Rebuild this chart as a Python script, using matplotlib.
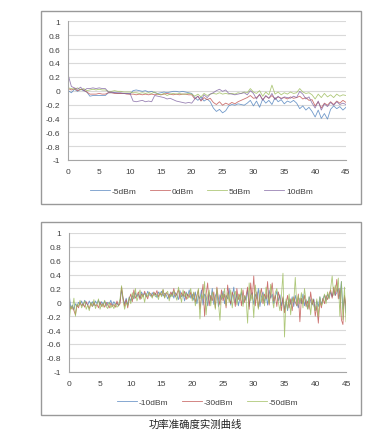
import numpy as np
import matplotlib
matplotlib.use('Agg')
import matplotlib.pyplot as plt
from matplotlib.patches import Rectangle

plt.rcParams['font.family'] = ['Liberation Sans', 'DejaVu Sans']

# ---- top chart: -5 / 0 / 5 / 10 dBm (x step 0.5) ----
top_labels = ['-5dBm', '0dBm', '5dBm', '10dBm']
top_m5 = [0.00, -0.03, 0.02, -0.01, 0.02, 0.00, -0.02,
          -0.08, -0.07, -0.07, -0.07, -0.07, -0.07,
          -0.03, -0.03, -0.03, -0.04, -0.04, -0.04, -0.04, -0.05,
          0.00, 0.01, 0.00, -0.01, 0.00, -0.02, -0.01, -0.03,
          -0.04, -0.03, -0.02, -0.03, -0.02, -0.01, -0.01, -0.02, -0.01, -0.02, -0.03, -0.04,
          -0.10, -0.14, -0.09, -0.15, -0.12, -0.16,
          -0.25, -0.30, -0.27, -0.32, -0.29,
          -0.22, -0.20, -0.21, -0.19, -0.20, -0.21, -0.18,
          -0.14, -0.22,
          -0.15, -0.24, -0.12, -0.18, -0.14, -0.20, -0.10, -0.16, -0.13, -0.19, -0.15, -0.17, -0.14, -0.18,
          -0.26, -0.22, -0.28, -0.24,
          -0.30, -0.38, -0.28, -0.40, -0.33, -0.41,
          -0.27, -0.22, -0.26, -0.23, -0.28, -0.24]
top_0 = [0.03, 0.01, 0.03, 0.00, 0.02, 0.01, -0.02,
         -0.05, -0.05, -0.05, -0.04, -0.05, -0.05,
         -0.03, -0.03, -0.04, -0.04, -0.04, -0.04, -0.05, -0.05,
         -0.05, -0.06, -0.05, -0.06, -0.05, -0.06, -0.05, -0.06,
         -0.05, -0.06, -0.05, -0.04, -0.05, -0.06, -0.05, -0.06, -0.05, -0.05, -0.06, -0.06,
         -0.12, -0.08, -0.15, -0.10, -0.13, -0.11,
         -0.17, -0.20, -0.16, -0.21, -0.18,
         -0.20, -0.17, -0.19, -0.16, -0.14, -0.12, -0.10,
         -0.07, -0.11,
         -0.10, -0.06, -0.13, -0.08, -0.11, -0.07, -0.12, -0.09, -0.11, -0.10, -0.12, -0.09, -0.11, -0.10,
         -0.08, -0.12, -0.10, -0.14,
         -0.13, -0.22, -0.16, -0.25, -0.18, -0.21,
         -0.16, -0.20, -0.15, -0.18, -0.14, -0.17]
top_5 = [0.04, 0.03, 0.02, 0.04, 0.01, 0.03, 0.00,
         0.01, 0.02, 0.01, 0.02, 0.01, 0.01,
         -0.01, -0.01, 0.00, -0.01, -0.01, -0.02, -0.02, -0.02,
         -0.03, -0.03, -0.04, -0.03, -0.04, -0.03, -0.04, -0.02,
         -0.05, -0.06, -0.04, -0.07, -0.05, -0.04, -0.05, -0.04, -0.05, -0.05, -0.04, -0.05,
         -0.08, -0.05, -0.09, -0.04, -0.07, -0.05,
         -0.04, -0.05, -0.03, -0.05, -0.04,
         -0.05, -0.04, -0.05, -0.03, -0.04, -0.02, -0.03,
         0.03, -0.02,
         -0.04, 0.00, -0.08, -0.02, -0.06, 0.08, -0.05, -0.02, -0.06, -0.03, -0.05, -0.02, -0.04, -0.03,
         0.03, -0.02, -0.04, -0.03,
         -0.06, -0.12, -0.05, -0.10, -0.04, -0.09,
         -0.06, -0.10, -0.05, -0.08, -0.06, -0.07]
top_10 = [0.22, 0.06, 0.04, 0.02, 0.05, 0.00, 0.03,
          0.03, 0.04, 0.03, 0.04, 0.03, 0.03,
          -0.02, -0.02, -0.03, -0.03, -0.03, -0.04, -0.04, -0.04,
          -0.15, -0.16, -0.15, -0.14, -0.16, -0.15, -0.16, -0.07,
          -0.08, -0.09, -0.10, -0.12, -0.11, -0.13, -0.15, -0.16, -0.17, -0.18, -0.17, -0.18,
          -0.12, -0.08, -0.14, -0.06, -0.10, -0.05,
          -0.03, 0.00, 0.02, -0.01, 0.01,
          -0.04, -0.05, -0.06, -0.05, -0.04, -0.03, -0.06,
          0.00, -0.04,
          -0.12, -0.05, -0.14, -0.07, -0.11, -0.04, -0.13, -0.08, -0.12, -0.09, -0.10, -0.11, -0.08, -0.10,
          -0.01, -0.05, -0.12, -0.09,
          -0.18, -0.25, -0.15, -0.28, -0.19, -0.23,
          -0.17, -0.21, -0.16, -0.20, -0.18, -0.20]

# ---- bottom chart: -10 / -30 / -50 dBm (x step 0.25) ----
bot_labels = ['-10dBm', '-30dBm', '-50dBm']
bot_m10 = [0.10, -0.08, -0.04, -0.10, -0.02, -0.06, 0.00, -0.03, 0.02, -0.05, 0.03, -0.01, -0.04, 0.02, -0.03, 0.01, -0.05, 0.02, -0.02, 0.03,
           -0.04, 0.01, -0.03, 0.02, -0.05, 0.00, -0.02, 0.03, -0.04, 0.01, -0.03, -0.01, -0.05, 0.02, 0.18, 0.05, -0.02, 0.06, -0.04, 0.08,
           0.02, 0.10, 0.05, 0.14, 0.08, 0.12, 0.06, 0.15, 0.10, 0.13, 0.08, 0.16, 0.11, 0.09, 0.14, 0.10, 0.13, 0.07, 0.15, 0.11,
           0.16, 0.09, 0.13, 0.11, 0.05, 0.12, 0.08, 0.15, 0.06, 0.14, 0.10, 0.04, 0.17, 0.08, 0.12, 0.02, 0.15, 0.09, 0.18, 0.06,
           0.12, 0.03, 0.15, -0.02, 0.10, 0.05, 0.18, -0.04, 0.12, 0.08, -0.05, 0.14, 0.02, 0.20, -0.03, 0.09, 0.15, -0.06, 0.11, 0.04,
           0.16, -0.02, 0.10, 0.05, 0.20, -0.04, 0.08, 0.22, 0.00, 0.12, -0.05, 0.06, 0.15, -0.02, 0.09, 0.03, 0.18, -0.06, 0.10, 0.14,
           -0.03, 0.12, 0.05, 0.20, -0.06, 0.08, 0.15, 0.00, 0.10, -0.04, 0.18, 0.06, 0.12, -0.02, 0.08, 0.16, 0.02, 0.11, -0.05, 0.06,
           -0.10, 0.02, -0.12, 0.05, -0.03, 0.08, -0.06, 0.10, 0.00, -0.08, 0.06, -0.02, 0.12, -0.05, 0.04, -0.09, 0.08, 0.02, -0.04, 0.05,
           -0.12, 0.02, -0.06, 0.08, -0.03, 0.05, 0.10, 0.02, 0.12, 0.06, 0.15, 0.08, 0.18, 0.10, 0.14, 0.20, 0.05, 0.30, -0.10, 0.08, -0.15]
bot_m30 = [-0.02, -0.10, -0.06, -0.12, -0.18, -0.04, -0.08, 0.00, -0.05, -0.02, -0.07, 0.01, -0.04, -0.09, -0.02, -0.06, 0.00, -0.05, -0.03, -0.08,
           0.01, -0.06, -0.02, -0.07, 0.00, -0.04, -0.08, -0.01, -0.06, -0.03, -0.07, 0.02, -0.05, -0.02, 0.22, 0.06, -0.06, 0.04, -0.08, 0.05,
           0.12, 0.01, 0.18, 0.06, 0.10, 0.15, 0.04, 0.12, 0.08, 0.16, 0.10, 0.05, 0.14, 0.12, 0.08, 0.15, 0.11, 0.17, 0.08, 0.13,
           0.10, 0.18, 0.07, 0.14, 0.12, 0.06, 0.15, 0.10, 0.20, 0.08, 0.13, 0.18, 0.05, 0.14, 0.09, 0.16, 0.04, 0.12, 0.07, 0.15,
           0.05, 0.14, 0.00, 0.10, 0.18, -0.10, 0.08, 0.26, -0.20, 0.12, 0.28, -0.05, 0.10, 0.02, 0.15, -0.08, 0.22, 0.06, -0.04, 0.18,
           0.02, 0.12, -0.08, 0.25, 0.05, -0.02, 0.15, 0.08, -0.06, 0.20, 0.04, 0.12, -0.05, 0.18, 0.00, 0.10, 0.22, -0.10, 0.28, 0.05,
           0.38, -0.05, 0.15, -0.08, 0.10, 0.20, -0.02, 0.12, 0.05, 0.30, -0.04, 0.14, 0.28, 0.02, 0.10, -0.06, 0.15, 0.05, -0.12, 0.08,
           -0.15, -0.02, 0.10, -0.08, 0.05, -0.12, 0.08, 0.00, -0.05, 0.12, -0.28, 0.06, -0.02, 0.10, -0.06, 0.02, -0.10, 0.15, -0.03, 0.04,
           -0.20, -0.05, -0.30, 0.02, -0.08, 0.06, -0.02, 0.10, 0.04, 0.12, 0.18, 0.06, 0.22, 0.10, 0.33, 0.05, 0.20, -0.25, -0.32, 0.10, -0.05]
bot_m50 = [-0.25, -0.05, -0.10, 0.06, -0.20, -0.02, -0.06, 0.03, -0.08, -0.03, 0.02, -0.10, -0.04, -0.12, 0.00, -0.06, 0.04, -0.09, -0.03, 0.05,
           -0.10, -0.02, -0.07, 0.03, -0.06, -0.09, 0.00, -0.08, -0.04, -0.09, -0.02, -0.07, -0.05, 0.05, 0.24, 0.02, -0.10, 0.00, -0.05, 0.07,
           -0.02, 0.14, 0.05, 0.20, 0.02, 0.09, 0.18, 0.05, 0.12, 0.00, 0.13, 0.08, 0.15, 0.10, 0.06, 0.14, 0.08, 0.12, 0.04, 0.15,
           0.08, 0.19, 0.06, 0.13, 0.16, 0.02, 0.12, 0.08, 0.17, 0.10, 0.03, 0.22, 0.12, 0.00, 0.18, 0.08, 0.14, 0.05, 0.10, 0.20,
           0.02, 0.15, -0.05, 0.08, 0.20, -0.24, 0.12, 0.05, 0.30, -0.18, 0.10, 0.18, -0.05, 0.15, 0.08, -0.10, 0.20, 0.00, -0.26, 0.12,
           0.06, 0.20, -0.05, 0.14, 0.00, 0.18, -0.08, 0.10, 0.16, -0.04, 0.12, 0.02, 0.20, -0.06, 0.10, 0.05, -0.30, 0.28, 0.02, 0.12,
           -0.22, 0.25, 0.05, -0.10, 0.18, 0.00, 0.12, -0.05, 0.22, 0.08, -0.02, 0.26, 0.05, -0.08, 0.14, 0.20, 0.00, -0.12, 0.10, 0.42,
           -0.50, 0.05, -0.10, 0.12, -0.18, 0.06, 0.00, 0.36, -0.05, 0.10, -0.02, 0.14, -0.08, 0.20, 0.02, -0.10, 0.08, -0.18, 0.05, -0.05,
           -0.12, 0.05, -0.20, 0.08, -0.05, 0.02, 0.12, -0.02, 0.15, 0.05, 0.20, 0.38, 0.10, 0.25, 0.15, 0.35, -0.20, 0.30, -0.25, 0.22, -0.28]

caption = '功率准确度实测曲线'
xticks = list(range(0, 46, 5))
yticks = [1, 0.8, 0.6, 0.4, 0.2, 0, -0.2, -0.4, -0.6, -0.8, -1]
colors = ['#4F81BD', '#C0504D', '#9BBB59', '#8064A2']

W, H = 383, 439
fig = plt.figure(figsize=(W / 100, H / 100), dpi=100)

# chart frames
for (x0, y0, x1, y1) in [(40.5, 12, 360.5, 205), (41, 223, 360.5, 415.7)]:
    fig.patches.append(Rectangle((x0 / W, 1 - y1 / H), (x1 - x0) / W, (y1 - y0) / H,
                                 transform=fig.transFigure, fill=False,
                                 edgecolor='#999999', linewidth=1.0))


def style(ax):
    ax.set_xlim(0, 45)
    ax.set_ylim(-1, 1)
    ax.set_xticks(xticks)
    ax.set_yticks(yticks)
    ax.set_yticklabels([('%g' % v) for v in yticks])
    ax.grid(axis='y', color='#d9d9d9', linewidth=0.8)
    ax.set_axisbelow(True)
    for s in ['top', 'right']:
        ax.spines[s].set_visible(False)
    for s in ['left', 'bottom']:
        ax.spines[s].set_color('#a6a6a6')
        ax.spines[s].set_linewidth(0.8)
    ax.tick_params(length=0, labelsize=6, colors='#404040', pad=6)


ax1 = fig.add_axes([68.3 / W, 1 - 161 / H, (346 - 68.3) / W, (161 - 22.3) / H])
for vals, lab, c in zip([top_m5, top_0, top_5, top_10], top_labels, colors):
    x = np.linspace(0, 45, len(vals))
    ax1.plot(x, vals, color=c, linewidth=0.6, alpha=0.8, label=lab)
style(ax1)
ax1.legend(loc='center', bbox_to_anchor=(0.48, -0.225), ncol=4, frameon=False,
           fontsize=6, handlelength=2.4, columnspacing=1.6, handletextpad=0.2,
           labelcolor='#404040')

ax2 = fig.add_axes([69.3 / W, 1 - 372.7 / H, (346 - 69.3) / W, (372.7 - 234) / H])
for vals, lab, c in zip([bot_m10, bot_m30, bot_m50], bot_labels, colors[:3]):
    x = np.linspace(0, 45, len(vals))
    ax2.plot(x, vals, color=c, linewidth=0.6, alpha=0.8, label=lab)
style(ax2)
ax2.legend(loc='center', bbox_to_anchor=(0.5, -0.22), ncol=3, frameon=False,
           fontsize=6, handlelength=2.4, columnspacing=1.6, handletextpad=0.2,
           labelcolor='#404040')

fig.text(195 / W, 1 - 425 / H, caption, ha='center', va='center', fontsize=7.5,
         family=['Noto Sans CJK SC', 'DejaVu Sans'], color='#222222', weight='medium')

fig.savefig('out.png', dpi=100)
